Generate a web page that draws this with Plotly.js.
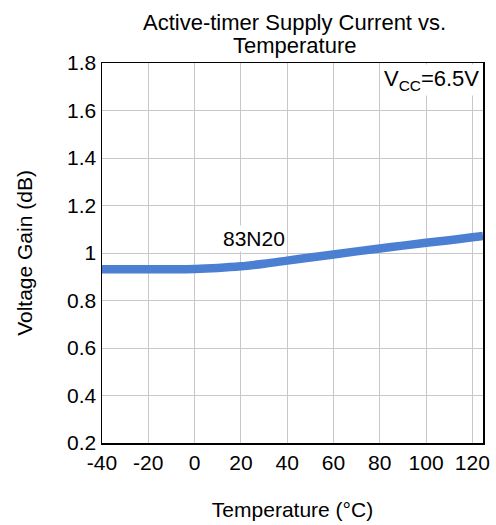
<!DOCTYPE html>
<html>
<head>
<meta charset="utf-8">
<script src="https://cdn.plot.ly/plotly-3.0.1.min.js"></script>
<style>html,body{margin:0;padding:0;background:#fff;}#chart{width:496px;height:525px;}</style>
</head>
<body>
<div id="chart"></div>
<script>
// Data
var temperature = [-40, -30, -20, -10, 0, 10, 20, 30, 40, 50, 60, 70, 80, 90, 100, 110, 120, 124.6];
var voltageGain = [0.932, 0.932, 0.932, 0.932, 0.933, 0.937, 0.944, 0.955, 0.968, 0.981, 0.994, 1.007, 1.019, 1.031, 1.043, 1.054, 1.066, 1.072];
var xTickVals = [-40, -20, 0, 20, 40, 60, 80, 100, 120];
var yTickVals = [0.2, 0.4, 0.6, 0.8, 1, 1.2, 1.4, 1.6, 1.8];
var yTickText = ['0.2', '0.4', '0.6', '0.8', '1', '1.2', '1.4', '1.6', '1.8'];
var seriesLabel = '83N20';
var titleLine1 = 'Active-timer Supply Current vs.';
var titleLine2 = 'Temperature';
var conditionLabel = 'V<sub>CC</sub>=6.5V';

var FONT = 'Liberation Sans, Arial, sans-serif';

var trace = {
  x: temperature,
  y: voltageGain,
  type: 'scatter',
  mode: 'lines',
  line: {color: 'rgb(74,127,209)', width: 8.5, shape: 'spline'},
  hoverinfo: 'skip',
  showlegend: false
};

var axisCommon = {
  showgrid: true,
  gridcolor: 'rgb(200,200,200)',
  gridwidth: 1,
  zeroline: false,
  showline: true,
  linecolor: '#000000',
  linewidth: 1.5,
  mirror: true,
  ticks: '',
  tickfont: {size: 21, family: FONT, color: '#000000'}
};

var layout = {
  width: 496,
  height: 525,
  margin: {l: 102, r: 13, t: 63, b: 82},
  paper_bgcolor: '#ffffff',
  plot_bgcolor: '#ffffff',
  font: {family: FONT, color: '#000000', size: 21},
  xaxis: Object.assign({}, axisCommon, {
    range: [-40, 124.6],
    tickmode: 'array',
    tickvals: xTickVals,
    ticktext: xTickVals.map(String),
    title: {text: 'Temperature (°C)', font: {size: 21, family: FONT}, standoff: 29}
  }),
  yaxis: Object.assign({}, axisCommon, {
    range: [0.2, 1.8],
    tickmode: 'array',
    tickvals: yTickVals,
    ticktext: yTickText,
    title: {text: 'Voltage Gain (dB)', font: {size: 21, family: FONT}, standoff: 28}
  }),
  annotations: [
    {
      text: titleLine1, xref: 'paper', yref: 'paper', x: 0.506, y: 1.107,
      xanchor: 'center', yanchor: 'middle', showarrow: false,
      font: {size: 22, family: FONT}
    },
    {
      text: titleLine2, xref: 'paper', yref: 'paper', x: 0.506, y: 1.047,
      xanchor: 'center', yanchor: 'middle', showarrow: false,
      font: {size: 22, family: FONT}
    },
    {
      text: seriesLabel, xref: 'x', yref: 'y', x: 25.5, y: 1.059,
      xanchor: 'center', yanchor: 'middle', showarrow: false,
      bgcolor: '#ffffff', borderpad: 1,
      font: {size: 21, family: FONT}
    },
    {
      text: conditionLabel, xref: 'paper', yref: 'paper', x: 0.995, y: 0.997,
      xanchor: 'right', yanchor: 'top', showarrow: false,
      bgcolor: '#ffffff', borderpad: 1,
      font: {size: 22, family: FONT}
    }
  ]
};

Plotly.newPlot('chart', [trace], layout, {displayModeBar: false, staticPlot: true});
</script>
</body>
</html>
